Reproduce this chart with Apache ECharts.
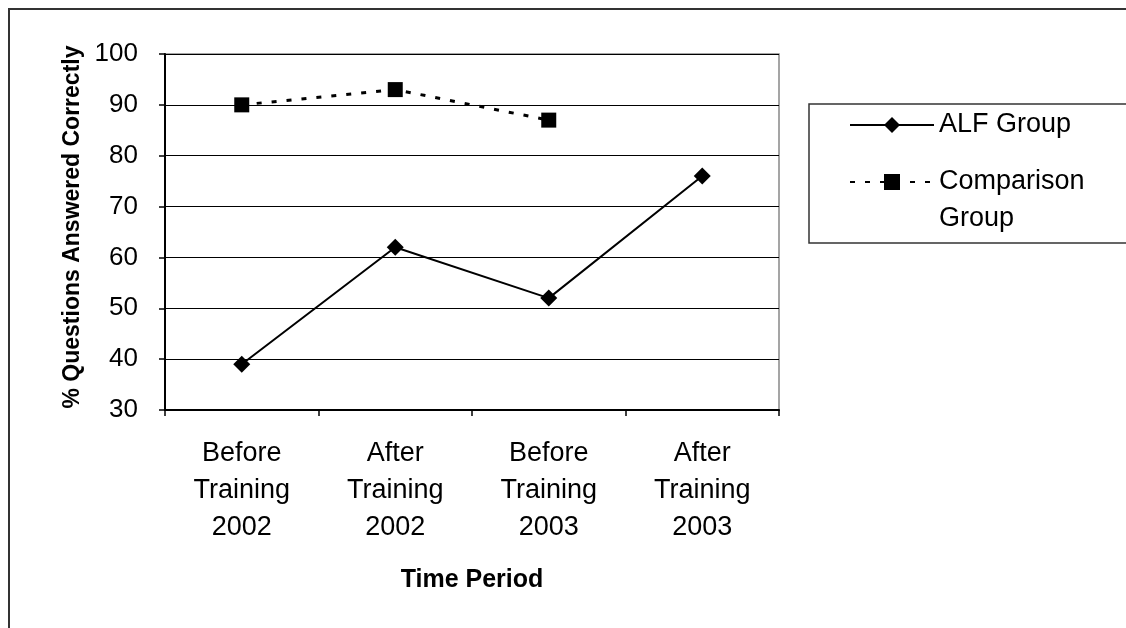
<!DOCTYPE html>
<html>
<head>
<meta charset="utf-8">
<script src="https://cdn.jsdelivr.net/npm/echarts@6/dist/echarts.min.js"></script>
<style>
html,body{margin:0;padding:0;background:#fff;}
#c{width:1126px;height:628px;}
</style>
</head>
<body>
<div id="c"></div>
<script>
const categories = ['Before\nTraining\n2002', 'After\nTraining\n2002', 'Before\nTraining\n2003', 'After\nTraining\n2003'];
const alfGroup = [39, 62, 52, 76];
const comparisonGroup = [90, 93, 87, null];
const seriesNames = ['ALF Group', 'Comparison Group'];
const yTicks = { min: 30, max: 100, interval: 10 };

const FONT = '"Liberation Sans", Arial, sans-serif';
const chart = echarts.init(document.getElementById('c'), null, { renderer: 'canvas' });

chart.setOption({
  backgroundColor: '#ffffff',
  animation: false,
  graphic: [
    { type: 'rect', silent: true, z: -1, shape: { x: 9, y: 9, width: 1300, height: 800 },
      style: { fill: 'none', stroke: '#333', lineWidth: 2 } },
    { type: 'rect', silent: true, z: -1, shape: { x: 809, y: 104, width: 400, height: 139 },
      style: { fill: '#fff', stroke: '#333', lineWidth: 1.5 } }
  ],
  grid: {
    left: 165, top: 54, width: 614, height: 356,
    show: true, borderColor: '#888', borderWidth: 1.5, backgroundColor: 'transparent'
  },
  legend: [
    {
      orient: 'vertical', left: 849, top: 106.5, padding: 0, itemWidth: 84, itemHeight: 20,
      data: [seriesNames[0]],
      textStyle: { fontFamily: FONT, fontSize: 27, color: '#000', lineHeight: 37 }
    },
    {
      orient: 'vertical', left: 849, top: 126.5, padding: 0, itemWidth: 84, itemHeight: 20,
      data: [seriesNames[1]],
      formatter: function () { return '{p| }\n{t|Comparison}\n{t|Group}'; },
      textStyle: {
        fontFamily: FONT, fontSize: 27, color: '#000', lineHeight: 37,
        rich: {
          p: { fontFamily: FONT, fontSize: 27, lineHeight: 37 },
          t: { fontFamily: FONT, fontSize: 27, lineHeight: 37, color: '#000' }
        }
      }
    }
  ],
  xAxis: {
    type: 'category',
    data: categories,
    boundaryGap: true,
    name: 'Time Period',
    nameLocation: 'middle',
    nameGap: 158,
    nameTextStyle: { fontFamily: FONT, fontSize: 25, fontWeight: 'bold', color: '#000' },
    axisLine: { lineStyle: { color: '#000', width: 2 } },
    axisTick: { show: true, length: 6, alignWithLabel: false, lineStyle: { color: '#000', width: 1.5 } },
    axisLabel: { fontFamily: FONT, fontSize: 27, color: '#000', lineHeight: 37, margin: 25, interval: 0 },
    splitLine: { show: false }
  },
  yAxis: {
    type: 'value',
    min: yTicks.min, max: yTicks.max, interval: yTicks.interval,
    name: '% Questions Answered Correctly',
    nameLocation: 'middle',
    nameGap: 78,
    nameTextStyle: { fontFamily: FONT, fontSize: 23, fontWeight: 'bold', color: '#000', padding: [0, 0, 0, 10] },
    axisLine: { show: true, lineStyle: { color: '#000', width: 2 } },
    axisTick: { show: true, length: 6, lineStyle: { color: '#000', width: 1.5 } },
    axisLabel: { fontFamily: FONT, fontSize: 26, color: '#000', margin: 27 },
    splitLine: { show: true, lineStyle: { color: '#000', width: 1 } }
  },
  series: [
    {
      name: seriesNames[0], type: 'line', data: alfGroup,
      symbol: 'diamond', symbolSize: 17,
      lineStyle: { color: '#000', width: 2 },
      itemStyle: { color: '#000' }, z: 3
    },
    {
      name: seriesNames[1], type: 'line', data: comparisonGroup,
      symbol: 'rect', symbolSize: 15, connectNulls: false,
      lineStyle: { color: '#000', width: 3, type: [5, 10] },
      itemStyle: { color: '#000' }, z: 3
    }
  ]
});
</script>
</body>
</html>
